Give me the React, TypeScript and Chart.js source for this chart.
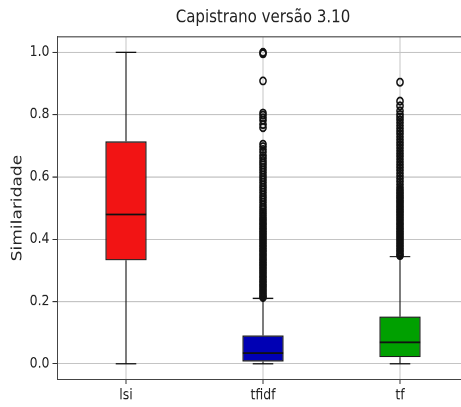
import { useEffect, useRef } from 'react';
import { Chart, registerables } from 'chart.js';

Chart.register(...registerables);

const categories = ['lsi', 'tfidf', 'tf'];
const whiskerLow = [0.0, 0.0, 0.0];
const q1 = [0.332, 0.007, 0.021];
const median = [0.479, 0.034, 0.069];
const q3 = [0.714, 0.091, 0.1515];
const whiskerHigh = [1.0, 0.21, 0.344];
const tfidfOutliers = [
  1.0, 0.998, 0.995, 0.908, 0.805, 0.798, 0.79, 0.782, 0.768, 0.758, 0.705, 0.697, 0.688, 0.68,
  0.668, 0.66, 0.652, 0.645, 0.638, 0.63, 0.622, 0.614, 0.606, 0.598, 0.59, 0.582, 0.574, 0.566,
  0.558, 0.55, 0.542, 0.534, 0.526, 0.518, 0.51, 0.502, 0.495, 0.488, 0.482, 0.476, 0.47, 0.465,
  0.46, 0.455, 0.45, 0.445, 0.44, 0.435, 0.43, 0.425, 0.42, 0.415, 0.41, 0.405, 0.4, 0.395, 0.39,
  0.385, 0.38, 0.375, 0.37, 0.365, 0.36, 0.355, 0.35, 0.345, 0.34, 0.335, 0.33, 0.325, 0.32, 0.315,
  0.31, 0.305, 0.3, 0.295, 0.29, 0.285, 0.28, 0.275, 0.27, 0.265, 0.26, 0.255, 0.25, 0.245, 0.24,
  0.235, 0.23, 0.225, 0.22, 0.216, 0.213,
];
const tfOutliers = [
  0.904, 0.843, 0.828, 0.812, 0.8, 0.792, 0.783, 0.774, 0.765, 0.756, 0.747, 0.738, 0.729, 0.72,
  0.711, 0.702, 0.693, 0.684, 0.675, 0.666, 0.657, 0.648, 0.639, 0.63, 0.621, 0.612, 0.603, 0.594,
  0.585, 0.576, 0.567, 0.56, 0.555, 0.55, 0.545, 0.54, 0.535, 0.53, 0.525, 0.52, 0.515, 0.51, 0.505,
  0.5, 0.495, 0.49, 0.485, 0.48, 0.475, 0.47, 0.465, 0.46, 0.455, 0.45, 0.445, 0.44, 0.435, 0.43,
  0.425, 0.42, 0.415, 0.41, 0.405, 0.4, 0.395, 0.39, 0.385, 0.38, 0.375, 0.37, 0.365, 0.36, 0.355,
  0.35, 0.347,
];
const yTicks = [0.0, 0.2, 0.4, 0.6, 0.8, 1.0];
const boxColors = ['#f21414', '#0000b4', '#00a000'];
const titleText = 'Capistrano versão 3.10';
const yTitle = 'Similaridade';

const FONT = "'DejaVu Sans', sans-serif";
const STRETCH = 407 / 346;

const boxPlugin = {
  id: 'boxWhiskers',
  beforeDatasetsDraw(chart: any) {
    const { ctx, scales } = chart;
    const x = scales.x;
    const y = scales.y;
    const meta = chart.getDatasetMeta(0);
    ctx.save();
    ctx.strokeStyle = '#111';
    ctx.lineWidth = 1.1;
    categories.forEach((_c, i) => {
      const bar: any = meta.data[i];
      const cx = x.getPixelForValue(i);
      const half = bar.width / 4;
      const yLo = y.getPixelForValue(whiskerLow[i]);
      const yQ1 = y.getPixelForValue(q1[i]);
      const yQ3 = y.getPixelForValue(q3[i]);
      const yHi = y.getPixelForValue(whiskerHigh[i]);
      ctx.beginPath();
      ctx.moveTo(cx, yQ1);
      ctx.lineTo(cx, yLo);
      ctx.moveTo(cx, yQ3);
      ctx.lineTo(cx, yHi);
      ctx.moveTo(cx - half, yLo);
      ctx.lineTo(cx + half, yLo);
      ctx.moveTo(cx - half, yHi);
      ctx.lineTo(cx + half, yHi);
      ctx.stroke();
    });
    ctx.restore();
  },
  afterDatasetsDraw(chart: any) {
    const { ctx, scales } = chart;
    const y = scales.y;
    const meta = chart.getDatasetMeta(0);
    ctx.save();
    ctx.strokeStyle = '#111';
    ctx.lineWidth = 1.5;
    categories.forEach((_c, i) => {
      const bar: any = meta.data[i];
      const ym = y.getPixelForValue(median[i]);
      ctx.beginPath();
      ctx.moveTo(bar.x - bar.width / 2, ym);
      ctx.lineTo(bar.x + bar.width / 2, ym);
      ctx.stroke();
    });
    ctx.restore();
  },
  afterDraw(chart: any) {
    const { ctx, chartArea } = chart;
    ctx.save();
    ctx.strokeStyle = '#444';
    ctx.lineWidth = 1;
    ctx.beginPath();
    ctx.moveTo(chartArea.left, chartArea.top);
    ctx.lineTo(chartArea.right, chartArea.top);
    ctx.stroke();
    ctx.restore();
  },
};

export default function App() {
  const ref = useRef<HTMLCanvasElement>(null);
  useEffect(() => {
    const outlierStyle = {
      type: 'scatter',
      pointRadius: 3.1,
      pointBorderWidth: 1.5,
      pointBorderColor: '#111',
      pointBackgroundColor: 'rgba(0,0,0,0)',
      order: 1,
    };
    const chart = new Chart(ref.current as HTMLCanvasElement, {
      type: 'bar',
      data: {
        labels: categories,
        datasets: [
          {
            type: 'bar',
            data: categories.map((_c, i) => [q1[i], q3[i]]) as any,
            backgroundColor: boxColors,
            borderColor: '#1a1a1a',
            borderWidth: 1.2,
            borderSkipped: false,
            barPercentage: 0.3,
            categoryPercentage: 1,
            order: 2,
          },
          {
            ...outlierStyle,
            data: tfidfOutliers.map((v) => ({ x: 'tfidf', y: v })),
          } as any,
          {
            ...outlierStyle,
            data: tfOutliers.map((v) => ({ x: 'tf', y: v })),
          } as any,
        ],
      },
      plugins: [boxPlugin],
      options: {
        animation: false,
        responsive: true,
        maintainAspectRatio: false,
        devicePixelRatio: 2,
        layout: { padding: { left: 0, right: 11.5, top: 0, bottom: 0 } },
        plugins: {
          legend: { display: false },
          tooltip: { enabled: false },
          title: {
            display: true,
            text: titleText,
            fullSize: false,
            color: '#222',
            font: { family: FONT, size: 15, weight: 'normal', lineHeight: 1.2 },
            padding: { top: 6.3, bottom: 6.9 },
          },
        },
        scales: {
          x: {
            type: 'category',
            offset: true,
            grid: {
              offset: false,
              color: '#c4c4c4',
              lineWidth: 1,
              tickColor: '#333',
              tickLength: 4,
            },
            border: { display: true, color: '#444', width: 1 },
            ticks: { color: '#222', font: { family: FONT, size: 12.5 }, padding: 2.5 },
            afterFit: (scale: any) => {
              scale.height = 23.55;
            },
          },
          y: {
            type: 'linear',
            min: -0.05,
            max: 1.05,
            afterBuildTicks: (scale: any) => {
              scale.ticks = yTicks.map((v) => ({ value: v }));
            },
            grid: { color: '#c4c4c4', lineWidth: 1, tickColor: '#333', tickLength: 5 },
            border: { display: true, color: '#444', width: 1 },
            ticks: {
              color: '#222',
              font: { family: FONT, size: 12.5 },
              padding: 3,
              callback: (v: any) => Number(v).toFixed(1),
            },
            title: {
              display: true,
              text: yTitle,
              color: '#222',
              font: { family: FONT, size: 14.5, lineHeight: 1.2 },
              padding: { top: 9, bottom: 0 },
            },
            afterFit: (scale: any) => {
              scale.width = 57.5;
            },
          },
        },
      },
    });
    return () => chart.destroy();
  }, []);
  return (
    <div
      style={{
        position: 'fixed',
        left: 0,
        top: 0,
        width: 461,
        height: 407,
        overflow: 'hidden',
        background: '#fff',
      }}
    >
      <div
        style={{
          position: 'relative',
          width: 480,
          height: 346,
          transform: `scaleY(${STRETCH})`,
          transformOrigin: '0 0',
        }}
      >
        <canvas ref={ref} />
      </div>
    </div>
  );
}
